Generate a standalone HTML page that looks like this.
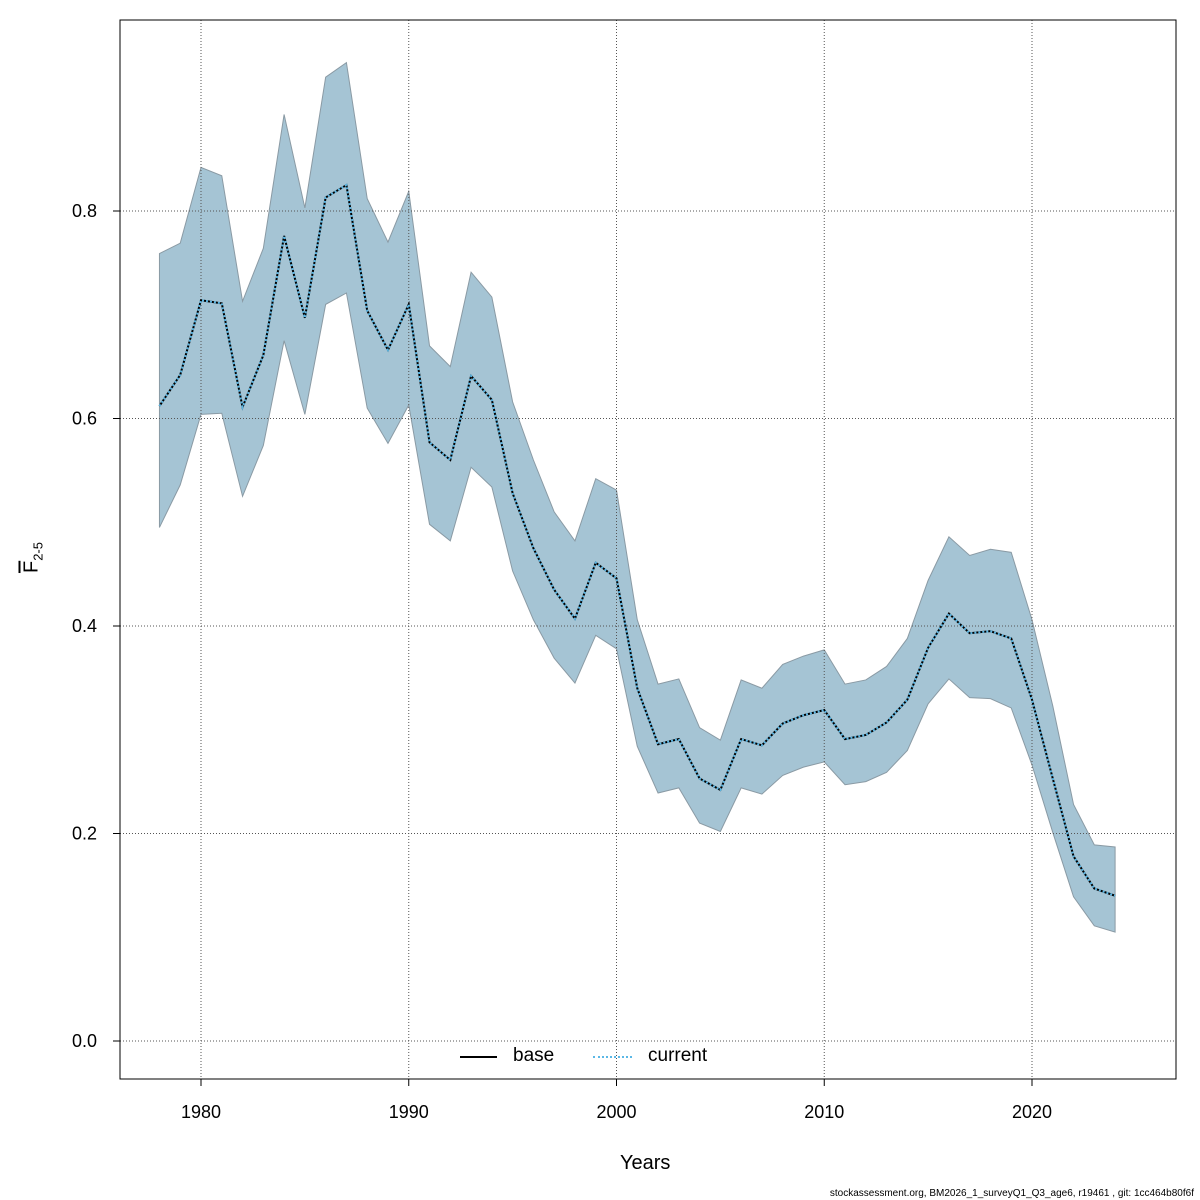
<!DOCTYPE html>
<html><head><meta charset="utf-8"><style>
html,body{margin:0;padding:0;background:#fff;}
svg{display:block;font-family:"Liberation Sans",Arial,sans-serif;}
</style></head><body>
<svg id="chart" width="1200" height="1200" viewBox="0 0 1200 1200"></svg>
<script>
const years = [1978,1979,1980,1981,1982,1983,1984,1985,1986,1987,1988,1989,1990,1991,1992,1993,1994,1995,1996,1997,1998,1999,2000,2001,2002,2003,2004,2005,2006,2007,2008,2009,2010,2011,2012,2013,2014,2015,2016,2017,2018,2019,2020,2021,2022,2023,2024];
const fbarMean = [0.612,0.642,0.714,0.711,0.611,0.661,0.776,0.697,0.813,0.825,0.704,0.666,0.710,0.577,0.560,0.641,0.618,0.528,0.475,0.435,0.407,0.461,0.446,0.340,0.286,0.291,0.253,0.242,0.291,0.285,0.306,0.314,0.319,0.291,0.295,0.307,0.329,0.379,0.412,0.393,0.395,0.388,0.329,0.253,0.178,0.147,0.140];
const fbarUpper = [0.759,0.769,0.842,0.834,0.713,0.764,0.893,0.803,0.929,0.943,0.812,0.770,0.819,0.670,0.650,0.741,0.717,0.616,0.560,0.510,0.482,0.542,0.531,0.406,0.344,0.349,0.302,0.290,0.348,0.340,0.363,0.371,0.377,0.344,0.348,0.361,0.388,0.444,0.486,0.468,0.474,0.471,0.406,0.323,0.228,0.189,0.187];
const fbarLower = [0.495,0.536,0.604,0.605,0.525,0.574,0.675,0.604,0.710,0.721,0.610,0.576,0.613,0.498,0.482,0.553,0.534,0.453,0.406,0.369,0.345,0.391,0.378,0.284,0.239,0.244,0.210,0.202,0.244,0.238,0.256,0.264,0.269,0.247,0.250,0.259,0.280,0.325,0.349,0.331,0.330,0.321,0.266,0.201,0.139,0.111,0.105];
const xTicks = [1980,1990,2000,2010,2020];
const yTicks = [0.0,0.2,0.4,0.6,0.8];

const NS="http://www.w3.org/2000/svg";
const svg=document.getElementById('chart');
const X=v=>201+(v-1980)*(831/40);
const Y=v=>1041-v*1037.5;
function mk(t,a,p){const e=document.createElementNS(NS,t);for(const k in a)e.setAttribute(k,a[k]);(p||svg).appendChild(e);return e;}

// band
let pts=years.map((y,i)=>X(y)+','+Y(fbarUpper[i]));
for(let i=years.length-1;i>=0;i--)pts.push(X(years[i])+','+Y(fbarLower[i]));
const band=mk('polygon',{points:pts.join(' '),fill:'#a5c4d4',stroke:'#8a9aa4','stroke-width':1});



// grid
xTicks.forEach(t=>{const g=mk('line',{x1:X(t),x2:X(t),y1:20,y2:1079,stroke:'#555','stroke-width':1,'stroke-dasharray':'1,2'});

});
yTicks.forEach(t=>{const g=mk('line',{x1:120,x2:1176,y1:Y(t),y2:Y(t),stroke:'#555','stroke-width':1,'stroke-dasharray':'1,2'});

});

// lines
const lp=years.map((y,i)=>X(y)+','+Y(fbarMean[i])).join(' ');
const base=mk('polyline',{points:lp,fill:'none',stroke:'#000','stroke-width':2});


const cur=mk('polyline',{points:lp,fill:'none',stroke:'#5bb8e6','stroke-width':2,'stroke-dasharray':'2,2'});



// box
const box=mk('rect',{x:120,y:20,width:1056,height:1059,fill:'none',stroke:'#000','stroke-width':1});



// x axis
mk('line',{x1:X(1980),x2:X(2020),y1:1079,y2:1079,stroke:'#000'});
xTicks.forEach(t=>{mk('line',{x1:X(t),x2:X(t),y1:1079,y2:1086,stroke:'#000'});
const tx=mk('text',{x:X(t),y:1118,'text-anchor':'middle','font-size':18});tx.textContent=t;

});
yTicks.forEach(t=>{mk('line',{x1:113,x2:120,y1:Y(t),y2:Y(t),stroke:'#000'});
const tx=mk('text',{x:97,y:Y(t)+6,'text-anchor':'end','font-size':18});tx.textContent=t.toFixed(1);

});
</script>
<svg width="0" height="0"></svg>
<div style="position:absolute;left:0;top:0;width:1200px;height:1200px;pointer-events:none;font-family:'Liberation Sans',Arial,sans-serif;">
  <div style="position:absolute;left:620px;top:1152px;font-size:20px;">Years</div>
  <div style="position:absolute;left:8px;top:545px;font-size:20px;transform:rotate(-90deg);transform-origin:center;width:50px;text-align:center;"><span style="text-decoration:overline;">F</span><sub style="font-size:13px;">2-5</sub></div>
  <div style="position:absolute;left:460px;top:1045px;height:24px;font-size:19px;">
    <div style="position:absolute;left:0;top:0;width:140px;">
      <div style="position:absolute;left:0;top:11px;width:37px;height:2px;background:#000;"></div>
      <span style="position:absolute;left:53px;top:0;">base</span>
    </div>
    <div style="position:absolute;left:133px;top:0;width:160px;">
      <div style="position:absolute;left:0;top:11px;width:39px;height:0;border-top:2px dotted #5bb8e6;"></div>
      <span style="position:absolute;left:55px;top:0;">current</span>
    </div>
  </div>
  <div style="position:absolute;right:6px;top:1188px;font-size:10px;">stockassessment.org, BM2026_1_surveyQ1_Q3_age6, r19461 , git: 1cc464b80f6f</div>
</div>
</body></html>
